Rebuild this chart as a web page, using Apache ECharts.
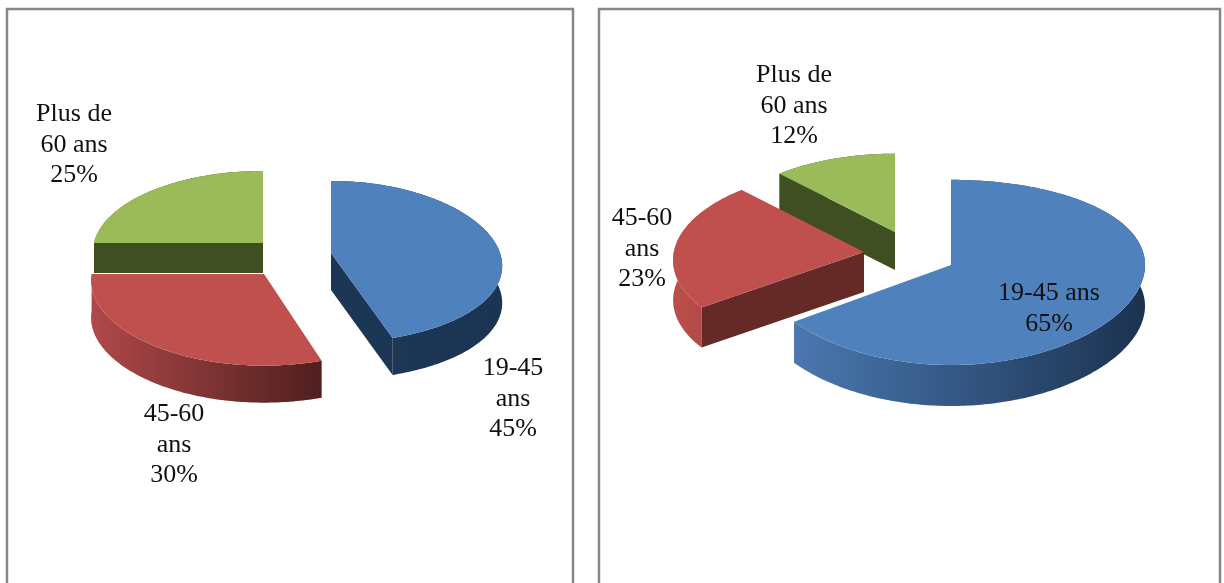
<!DOCTYPE html>
<html><head><meta charset="utf-8">
<style>html,body{margin:0;padding:0;background:#fff}#c{width:1224px;height:583px}</style>
<script src="https://cdn.jsdelivr.net/npm/echarts@6/dist/echarts.min.js"></script>
</head><body><div id="c"></div>
<script>
// ---- data ----
const categories = ['19-45 ans', '45-60 ans', 'Plus de 60 ans'];
const leftValues = [45, 30, 25];
const rightValues = [65, 23, 12];
const leftLabels = [['19-45', 'ans', '45%'], ['45-60', 'ans', '30%'], ['Plus de', '60 ans', '25%']];
const rightLabels = [['19-45 ans', '65%'], ['45-60', 'ans', '23%'], ['Plus de', '60 ans', '12%']];

// ---- styling / projection ----
const topColors = ['#4F81BD', '#C0504D', '#9BBB59'];
const cutColors = ['#1C3656', '#652A28', '#3F4F22'];
const leftPie = {
  center: [300, 260], rx: 169, ry: 80, persp: 0.11, perspX: [0.16, 0.08, 0.11],
  explode: [[31, -7], [-36, 14], [-37, -17]], scale: [1, 1.02, 1], depth: [37, 37, 30],
  order: [1, 2, 0],
  wall: [['#1D3859', '#1C3453'], ['#B0484A', '#4F1F1E'], ['#3F4F22', '#3F4F22']],
  labelAt: [[513, 368], [174, 414], [74, 114]]
};
const rightPie = {
  center: [900, 250], rx: 194, ry: 92, persp: 0.08, perspX: [0, 0.09, 0.08],
  explode: [[51, 15], [-36, 2], [-5, -18]], scale: [1, 0.98, 0.92], depth: [41, 40, 38],
  order: [2, 0, 1],
  wall: [['#4A78B0', '#1B3250'], ['#BB4E4B', '#A84542'], ['#3F4F22', '#3F4F22']],
  labelAt: [[1049, 293], [642, 218], [794, 75]]
};
const font = '"Liberation Serif","Times New Roman",serif';

function project(pie, i, deg, r) {
  const t = deg * Math.PI / 180, x = r * Math.sin(t), z = r * Math.cos(t);
  const s = pie.scale[i];
  return [pie.center[0] + pie.explode[i][0] + s * pie.rx * x / (1 + pie.perspX[i] * z),
          pie.center[1] + pie.explode[i][1] - s * pie.ry * z / (1 + pie.persp * z)];
}
function down(p, d) { return [p[0], p[1] + d]; }
// a radial cut is seen only when its outward normal points towards the viewer
function facesViewer(normalDeg) { return Math.cos(normalDeg * Math.PI / 180) < -1e-6; }

function pieSeries(pie, values, labels) {
  const total = values.reduce((a, b) => a + b, 0);
  const starts = []; let acc = 0;
  values.forEach(v => { starts.push(acc / total * 360); acc += v; });
  return {
    type: 'custom', coordinateSystem: 'none', silent: true,
    data: values.map((v, i) => ({ name: categories[i], value: [v, i] })),
    renderItem(params, api) {
      const v = api.value(0), i = api.value(1);
      const a = starts[i], b = a + v / total * 360, d = pie.depth[i];
      const arc = [];
      for (let t = a; t < b; t += 1) arc.push(project(pie, i, t, 1));
      arc.push(project(pie, i, b, 1));
      const apex = project(pie, i, 0, 0);
      const base = pie.order.indexOf(i) * 10;
      const wallPts = arc.concat(arc.slice().reverse().map(p => down(p, d)));
      const cut = e => ({ type: 'polygon', z2: base + 1,
        shape: { points: [apex, e, down(e, d), down(apex, d)] }, style: { fill: cutColors[i] } });
      const children = [
        { type: 'polygon', z2: base, shape: { points: wallPts },
          style: { fill: { type: 'linear', x: 0, y: 0, x2: 1, y2: 0,
            colorStops: [{ offset: 0, color: pie.wall[i][0] }, { offset: 1, color: pie.wall[i][1] }] } } }
      ];
      if (facesViewer(a - 90)) children.push(cut(arc[0]));
      if (facesViewer(b + 90)) children.push(cut(arc[arc.length - 1]));
      children.push(
        { type: 'polygon', z2: base + 2, shape: { points: [apex].concat(arc) }, style: { fill: topColors[i] } },
        { type: 'text', z2: 100, style: {
            text: labels[i].join('\n'), x: pie.labelAt[i][0], y: pie.labelAt[i][1] - 15,
            font: '26px ' + font, lineHeight: 30.5, fill: '#111', align: 'center', verticalAlign: 'top' } }
      );
      return { type: 'group', children };
    }
  };
}

const chart = echarts.init(document.getElementById('c'), null, { renderer: 'canvas' });
chart.setOption({
  animation: false,
  backgroundColor: '#fff',
  graphic: [
    { type: 'rect', shape: { x: 7, y: 9, width: 566, height: 600 }, style: { fill: 'none', stroke: '#868686', lineWidth: 2.5 }, z: -1 },
    { type: 'rect', shape: { x: 599, y: 9, width: 621, height: 600 }, style: { fill: 'none', stroke: '#868686', lineWidth: 2.5 }, z: -1 }
  ],
  series: [pieSeries(leftPie, leftValues, leftLabels), pieSeries(rightPie, rightValues, rightLabels)]
});
</script></body></html>
